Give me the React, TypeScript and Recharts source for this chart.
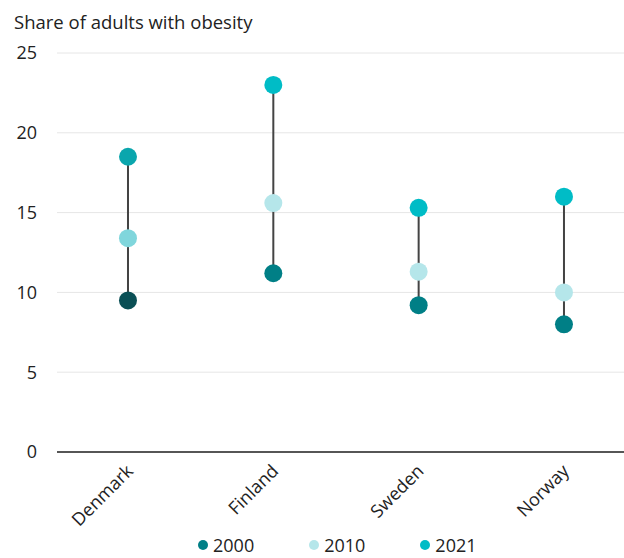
import { CartesianGrid, Cell, ComposedChart, Line, Scatter, XAxis, YAxis } from "recharts"

const countries = ["Denmark", "Finland", "Sweden", "Norway"]
const years = ["2000", "2010", "2021"]
const obesity2000 = [9.5, 11.2, 9.2, 8.0]
const obesity2010 = [13.4, 15.6, 11.3, 10.0]
const obesity2021 = [18.5, 23.0, 15.3, 16.0]
const yTicks = [0, 5, 10, 15, 20, 25]

// normal colours, then the highlighted (Denmark) colours
const colors = { "2000": "#007f86", "2010": "#b5e6ea", "2021": "#00bcc6" }
const highlight = { "2000": "#0a4f55", "2010": "#80d6dc", "2021": "#0aa6ad" }
const highlighted = "Denmark"

const font = "'Open Sans', 'Noto Sans', sans-serif"

const toPoints = (values: number[]) => values.map((y, i) => ({ x: i, y, country: countries[i] }))

const rangeData = countries.flatMap((c, i) => {
  const vals = [obesity2000[i], obesity2010[i], obesity2021[i]]
  return [
    { x: i, y: Math.min(...vals) },
    { x: i, y: Math.max(...vals) },
    { x: i, y: null },
  ]
})

const series = [
  { year: "2000", data: toPoints(obesity2000) },
  { year: "2010", data: toPoints(obesity2010) },
  { year: "2021", data: toPoints(obesity2021) },
]

const Dot = (props: any) => <circle cx={props.cx} cy={props.cy} r={9} fill={props.fill} />

const CountryTick = ({ x, y, payload }: any) => (
  <g transform={`translate(${x - 3},${y + 3})`}>
    <text x={0} y={0} dy={13} textAnchor="end" transform="rotate(-45)" fill="#222" fontSize={18} fontFamily={font}>
      {countries[payload.value]}
    </text>
  </g>
)

export default function App() {
  return (
    <div style={{ position: "absolute", left: 0, top: 0, width: 624, height: 558, background: "#fff", fontFamily: font }}>
      <div style={{ position: "absolute", left: 14, top: 9, fontSize: 18.5, color: "#222" }}>Share of adults with obesity</div>
      <ComposedChart width={624} height={532} margin={{ top: 53, right: 0, left: 0, bottom: 0 }}>
        <CartesianGrid vertical={false} stroke="#e6e6e6" />
        <XAxis
          type="number"
          dataKey="x"
          domain={[-0.4885, 3.413]}
          ticks={[0, 1, 2, 3]}
          allowDataOverflow
          height={80}
          tickLine={false}
          axisLine={{ stroke: "#222", strokeWidth: 1.5 }}
          tick={<CountryTick />}
        />
        <YAxis
          type="number"
          dataKey="y"
          domain={[0, 25]}
          ticks={yTicks}
          width={57}
          tickLine={false}
          axisLine={false}
          tickSize={0}
          tickMargin={20}
          tick={{ fill: "#222", fontSize: 18, fontFamily: font }}
        />
        <Line
          data={rangeData}
          dataKey="y"
          stroke="#444"
          strokeWidth={2}
          dot={false}
          activeDot={false}
          isAnimationActive={false}
        />
        {series.map((s) => (
          <Scatter key={s.year} name={s.year} data={s.data} dataKey="y" shape={<Dot />} isAnimationActive={false}>
            {s.data.map((d) => (
              <Cell
                key={d.country}
                fill={d.country === highlighted ? highlight[s.year as keyof typeof highlight] : colors[s.year as keyof typeof colors]}
              />
            ))}
          </Scatter>
        ))}
      </ComposedChart>
      <div style={{ position: "absolute", left: 198, top: 536, display: "flex", gap: 55, fontSize: 18, color: "#222", lineHeight: "18px" }}>
        {years.map((y) => (
          <div key={y} style={{ display: "flex", alignItems: "center", gap: 5 }}>
            <span style={{ width: 10, height: 10, borderRadius: 5, background: colors[y as keyof typeof colors], display: "inline-block" }} />
            <span>{y}</span>
          </div>
        ))}
      </div>
    </div>
  )
}
